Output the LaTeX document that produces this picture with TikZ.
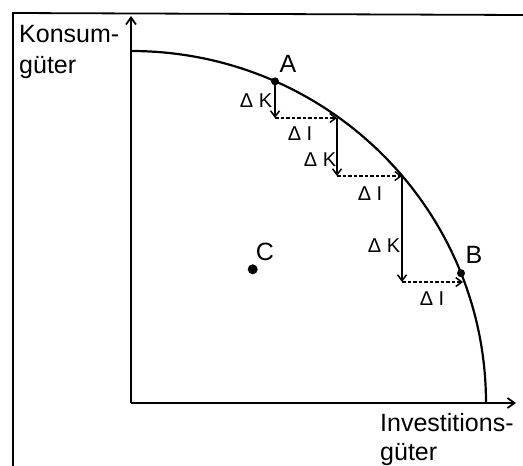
\documentclass[tikz,border=0pt]{standalone}
\usepackage{fontspec}
\setmainfont{Liberation Sans}
\usetikzlibrary{arrows.meta}
\begin{document}
\begin{tikzpicture}[x=1pt,y=-1pt,
  axis/.style={line width=2.2pt,-{Straight Barb[length=7pt,width=10pt,line width=1.8pt]}},
  frame/.style={line width=1.8pt},
  curve/.style={line width=2.2pt},
  vstep/.style={line width=1.8pt,-{Straight Barb[length=6pt,width=9pt,line width=1.5pt]}},
  hstep/.style={line width=1.5pt,dash pattern=on 3.5pt off 2pt,-{Straight Barb[length=6pt,width=9pt,line width=1.5pt]}},
  big/.style={font=\fontsize{25}{31}\selectfont,inner sep=0pt},
  ptlab/.style={font=\fontsize{25}{30}\selectfont,inner sep=0pt},
  small/.style={font=\fontsize{20}{22}\selectfont,inner sep=0pt},
  dot/.style={circle,fill=black,inner sep=0pt,minimum size=#1}]
\useasboundingbox (0,0) rectangle (523,466);
% frame
\draw[frame] (13,466) -- (13,13) -- (523,15);
% axes
\coordinate (O) at (131,403);
\coordinate (Ytip) at (131,16);
\coordinate (Xtip) at (516,403);
\draw[axis] (O) -- (Ytip);
\draw[axis] (O) -- (Xtip);
% axis labels
\node[big,anchor=north west,align=left] (ylab) at (19,25) {Konsum-\\güter};
\node[big,anchor=north west,align=left,font=\fontsize{25}{29.5}\selectfont] (xlab) at (380,413) {Investitions-\\güter};
% curve (quarter ellipse)
\draw[curve] (131,51) arc[start angle=90,end angle=0,x radius=355pt,y radius=352pt];
% points
\node[dot=8pt] (A) at (275,81.3) {};
\node[dot=8pt] (B) at (461,273.2) {};
\node[dot=10pt] (C) at (252.7,269.3) {};
\node[ptlab] (Alab) at (288,64) {A};
\node[ptlab] (Blab) at (474,255) {B};
\node[ptlab] (Clab) at (265,252) {C};
% steps
\coordinate (Q1) at (275,118);
\coordinate (P2) at (337,118);
\coordinate (Q2) at (337,176);
\coordinate (P3) at (402,176);
\coordinate (Q3) at (402,282);
\coordinate (E) at (463,282);
\draw[vstep] (A.center) -- (Q1);
\draw[hstep] (Q1) -- (P2);
\draw[vstep] (P2) -- (Q2);
\draw[hstep] (Q2) -- (P3);
\draw[vstep] (P3) -- (Q3);
\draw[hstep] (Q3) -- (E);
% labels
\node[small] (dk1) at (256,101) {Δ K};
\node[small] (di1) at (300,134) {Δ I};
\node[small] (dk2) at (320,160) {Δ K};
\node[small] (di2) at (370,194) {Δ I};
\node[small] (dk3) at (384,246) {Δ K};
\node[small] (di3) at (432,299) {Δ I};
\end{tikzpicture}
\end{document}
